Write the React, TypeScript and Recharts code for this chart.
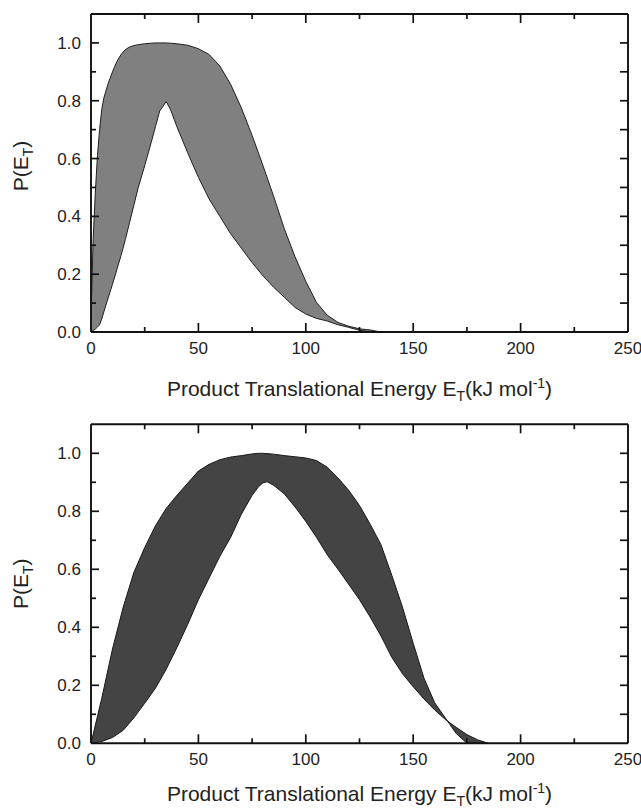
import React from 'react';
import { ComposedChart, Area, XAxis, YAxis } from 'recharts';

// ---------- data ----------
const energyTop = [0, 1, 2, 3, 4, 5, 6, 8, 10, 12, 14, 16, 18, 20, 22, 25, 28, 30, 32, 33, 35, 37, 40, 45, 50, 55, 60, 65, 70, 75, 80, 85, 90, 95, 100, 105, 110, 115, 120, 125, 130, 135];
const upperTop = [0.05, 0.32, 0.48, 0.61, 0.7, 0.77, 0.81, 0.86, 0.9, 0.935, 0.96, 0.977, 0.986, 0.991, 0.994, 0.997, 0.999, 1.0, 1.0, 1.0, 1.0, 0.999, 0.997, 0.992, 0.98, 0.96, 0.92, 0.857, 0.775, 0.68, 0.577, 0.47, 0.357, 0.26, 0.175, 0.102, 0.058, 0.033, 0.02, 0.011, 0.007, 0];
const lowerTop = [0, 0.005, 0.01, 0.017, 0.025, 0.045, 0.07, 0.118, 0.165, 0.215, 0.265, 0.32, 0.38, 0.44, 0.5, 0.575, 0.655, 0.71, 0.765, 0.775, 0.797, 0.77, 0.71, 0.62, 0.535, 0.46, 0.4, 0.34, 0.29, 0.24, 0.195, 0.155, 0.12, 0.085, 0.062, 0.047, 0.038, 0.025, 0.016, 0.006, 0, 0];

const energyBottom = [0, 5, 10, 15, 20, 25, 30, 35, 40, 45, 50, 55, 60, 65, 70, 75, 78, 80, 82, 85, 90, 95, 100, 105, 110, 115, 120, 125, 130, 135, 140, 145, 150, 155, 160, 165, 170, 175, 180, 185];
const upperBottom = [0, 0.155, 0.325, 0.47, 0.59, 0.675, 0.75, 0.81, 0.855, 0.897, 0.939, 0.962, 0.978, 0.987, 0.992, 0.998, 1.0, 1.0, 0.999, 0.997, 0.992, 0.988, 0.984, 0.975, 0.952, 0.915, 0.872, 0.82, 0.755, 0.685, 0.58, 0.47, 0.345, 0.225, 0.14, 0.087, 0.034, 0, 0, 0];
const lowerBottom = [0, 0.006, 0.02, 0.045, 0.088, 0.138, 0.19, 0.255, 0.33, 0.41, 0.495, 0.57, 0.645, 0.71, 0.79, 0.855, 0.885, 0.898, 0.902, 0.89, 0.86, 0.815, 0.765, 0.71, 0.65, 0.6, 0.548, 0.495, 0.435, 0.37, 0.297, 0.24, 0.195, 0.153, 0.115, 0.082, 0.055, 0.03, 0.012, 0];

const xTicks = [0, 25, 50, 75, 100, 125, 150, 175, 200, 225, 250];
const yTicks = [0, 0.1, 0.2, 0.3, 0.4, 0.5, 0.6, 0.7, 0.8, 0.9, 1.0];

const xTitleMain = 'Product Translational Energy E';
const xTitleSub = 'T';
const xTitleUnit = '(kJ mol';
const xTitleSup = '-1';
const yTitleMain = 'P(E';
const yTitleSub = 'T';

const topData = energyTop.map((e, i) => ({ energy: e, band: [lowerTop[i], upperTop[i]] }));
const bottomData = energyBottom.map((e, i) => ({ energy: e, band: [lowerBottom[i], upperBottom[i]] }));

// ---------- styling / layout ----------
const FONT = '"Liberation Sans", Arial, Helvetica, sans-serif';
const INK = '#111111';
const TEXT = '#222';
const TICK_FONT = 17;
const TITLE_FONT = 21;
const TICK_W = 1.7;
const CHART_W = 641;
const CHART_H = 404;
const PLOT_LEFT = 91;
const MARGIN_RIGHT = 13;
const PLOT_RIGHT = CHART_W - MARGIN_RIGHT;
const X_MAX = 250;
const axisLineStyle = { stroke: INK, strokeWidth: 1.9 };

const isMajorX = (v: number) => Math.round(v) % 50 === 0;
const isMajorY = (v: number) => Math.round(v * 10) % 2 === 0;

const renderBottomTick = (plotTop: number) => (props: any) => {
  const { x, y, payload } = props;
  const major = isMajorX(payload.value);
  const len = major ? 9 : 5;
  const edge = payload.value === 0 || payload.value === X_MAX;
  return (
    <g key={`bt-${payload.value}`}>
      {!edge && <line x1={x} y1={y} x2={x} y2={y - len} stroke={INK} strokeWidth={TICK_W} />}
      {!edge && <line x1={x} y1={plotTop} x2={x} y2={plotTop + len} stroke={INK} strokeWidth={TICK_W} />}
      {major && (
        <text x={x} y={y + 22} textAnchor="middle" fontSize={TICK_FONT} fontFamily={FONT} fill={TEXT}>
          {payload.value}
        </text>
      )}
    </g>
  );
};

const renderLeftTick = (props: any) => {
  const { x, y, payload } = props;
  const major = isMajorY(payload.value);
  const zero = payload.value === 0;
  return (
    <g key={`lt-${payload.value}`}>
      {!zero && <line x1={x} y1={y} x2={x + (major ? 8 : 5)} y2={y} stroke={INK} strokeWidth={TICK_W} />}
      {!zero && <line x1={PLOT_RIGHT - 8} y1={y} x2={PLOT_RIGHT} y2={y} stroke={INK} strokeWidth={TICK_W} />}
      {major && (
        <text x={x - 10} y={y} dy="0.36em" textAnchor="end" fontSize={TICK_FONT} fontFamily={FONT} fill={TEXT}>
          {Number(payload.value).toFixed(1)}
        </text>
      )}
    </g>
  );
};

const makeXTitle = (below: number) => (props: any) => {
  const vb = props.viewBox || {};
  const cx = vb.x + vb.width / 2;
  const by = vb.y + below;
  return (
    <text x={cx} y={by} textAnchor="middle" fontSize={TITLE_FONT} fontFamily={FONT} fill={TEXT}>
      {xTitleMain}
      <tspan dy={5} fontSize={14}>{xTitleSub}</tspan>
      <tspan dy={-5}>{xTitleUnit}</tspan>
      <tspan dy={-8} fontSize={14}>{xTitleSup}</tspan>
      <tspan dy={8}>)</tspan>
    </text>
  );
};

const makeYTitle = (shift: number) => (props: any) => {
  const vb = props.viewBox || {};
  const cx = 28;
  const cy = vb.y + vb.height / 2 + shift;
  return (
    <text
      x={cx}
      y={cy}
      transform={`rotate(-90, ${cx}, ${cy})`}
      textAnchor="middle"
      fontSize={TITLE_FONT}
      fontFamily={FONT}
      fill={TEXT}
    >
      {yTitleMain}
      <tspan dy={5} fontSize={14}>{yTitleSub}</tspan>
      <tspan dy={-5}>)</tspan>
    </text>
  );
};

type PanelProps = {
  data: any[];
  fill: string;
  stroke: string;
  marginTop: number;
  xAxisHeight: number;
  titleBelow: number;
  yShift: number;
};

const Panel = ({ data, fill, stroke, marginTop, xAxisHeight, titleBelow, yShift }: PanelProps) => (
  <ComposedChart width={CHART_W} height={CHART_H} data={data} margin={{ top: marginTop, right: MARGIN_RIGHT, left: 0, bottom: 0 }}>
    <XAxis
      dataKey="energy"
      type="number"
      domain={[0, X_MAX]}
      ticks={xTicks}
      interval={0}
      allowDataOverflow
      height={xAxisHeight}
      tickSize={0}
      tickMargin={0}
      tickLine={false}
      axisLine={axisLineStyle}
      tick={renderBottomTick(marginTop)}
      label={{ content: makeXTitle(titleBelow) }}
    />
    <XAxis
      xAxisId="top"
      orientation="top"
      dataKey="energy"
      type="number"
      domain={[0, X_MAX]}
      ticks={xTicks}
      interval={0}
      mirror
      height={20}
      tick={false}
      tickLine={false}
      axisLine={axisLineStyle}
    />
    <YAxis
      type="number"
      domain={[0, 1.1]}
      ticks={yTicks}
      interval={0}
      allowDataOverflow
      width={PLOT_LEFT}
      tickSize={0}
      tickMargin={0}
      tickLine={false}
      axisLine={axisLineStyle}
      tick={renderLeftTick}
      label={{ content: makeYTitle(yShift) }}
    />
    <YAxis
      yAxisId="right"
      orientation="right"
      type="number"
      domain={[0, 1.1]}
      ticks={yTicks}
      interval={0}
      mirror
      width={20}
      tick={false}
      tickLine={false}
      axisLine={axisLineStyle}
    />
    <Area
      type="linear"
      dataKey="band"
      fill={fill}
      fillOpacity={1}
      stroke={stroke}
      strokeWidth={1}
      dot={false}
      activeDot={false}
      isAnimationActive={false}
    />
    <Area
      xAxisId="top"
      yAxisId="right"
      type="linear"
      dataKey="band"
      fill="none"
      fillOpacity={0}
      stroke="none"
      dot={false}
      activeDot={false}
      isAnimationActive={false}
    />
  </ComposedChart>
);

export default function App() {
  return (
    <div style={{ position: 'absolute', left: 0, top: 0, width: 641, height: 808, background: '#fff' }}>
      <div style={{ width: CHART_W, height: CHART_H }}>
        <Panel data={topData} fill="#808080" stroke="#1f1f1f" marginTop={14} xAxisHeight={72} titleBelow={64} yShift={-7} />
      </div>
      <div style={{ width: CHART_W, height: CHART_H }}>
        <Panel data={bottomData} fill="#444444" stroke="#1a1a1a" marginTop={20.3} xAxisHeight={64.7} titleBelow={58} yShift={0} />
      </div>
    </div>
  );
}
